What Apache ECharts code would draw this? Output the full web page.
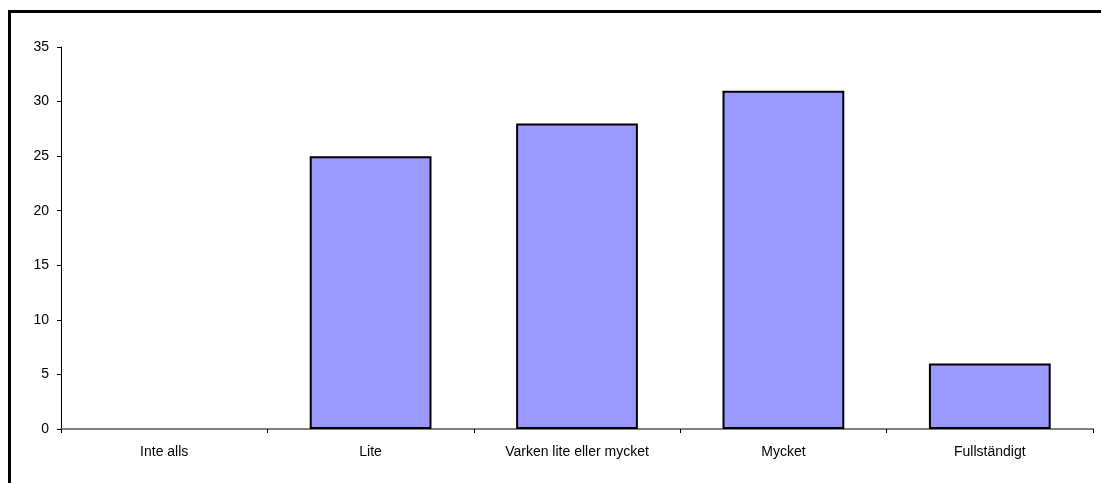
<!DOCTYPE html>
<html>
<head>
<meta charset="utf-8">
<script src="https://cdn.jsdelivr.net/npm/echarts@6/dist/echarts.min.js"></script>
<style>
  html, body { margin: 0; padding: 0; background: #fff; }
  #chart { width: 1101px; height: 483px; }
</style>
</head>
<body>
<div id="chart"></div>
<script>
// Answer categories and their counts
const categories = ['Inte alls', 'Lite', 'Varken lite eller mycket', 'Mycket', 'Fullständigt'];
const values = [0, 25, 28, 31, 6];
const yTicks = { min: 0, max: 35, interval: 5 };

const chart = echarts.init(document.getElementById('chart'), null, { renderer: 'canvas' });

// An empty bar gets no outline so it does not show up on the axis
const barData = values.map(v => v === 0 ? { value: v, itemStyle: { borderWidth: 0 } } : v);

chart.setOption({
  animation: false,
  backgroundColor: '#ffffff',
  textStyle: { fontFamily: 'Liberation Sans, Arial, sans-serif' },
  graphic: [{
    type: 'rect',
    silent: true,
    shape: { x: 9.5, y: 11.5, width: 1200, height: 1000 },
    style: { fill: 'none', stroke: '#000', lineWidth: 3 }
  }],
  grid: { left: 61, right: 8, top: 47, bottom: 54, containLabel: false },
  xAxis: {
    type: 'category',
    data: categories,
    boundaryGap: true,
    axisLine: { lineStyle: { color: '#808080', width: 2 } },
    axisTick: { show: true, alignWithLabel: false, length: 4, lineStyle: { color: '#000', width: 1 } },
    axisLabel: { color: '#000', fontSize: 14, margin: 16, interval: 0 },
    splitLine: { show: false }
  },
  yAxis: {
    type: 'value',
    min: yTicks.min,
    max: yTicks.max,
    interval: yTicks.interval,
    axisLine: { show: true, lineStyle: { color: '#000', width: 1 } },
    axisTick: { show: true, length: 4, lineStyle: { color: '#000' } },
    axisLabel: { color: '#000', fontSize: 14, margin: 12 },
    splitLine: { show: false }
  },
  series: [{
    type: 'bar',
    data: barData,
    barWidth: '59%',
    itemStyle: { color: '#9999ff', borderColor: '#000', borderWidth: 2 }
  }]
});
</script>
</body>
</html>
